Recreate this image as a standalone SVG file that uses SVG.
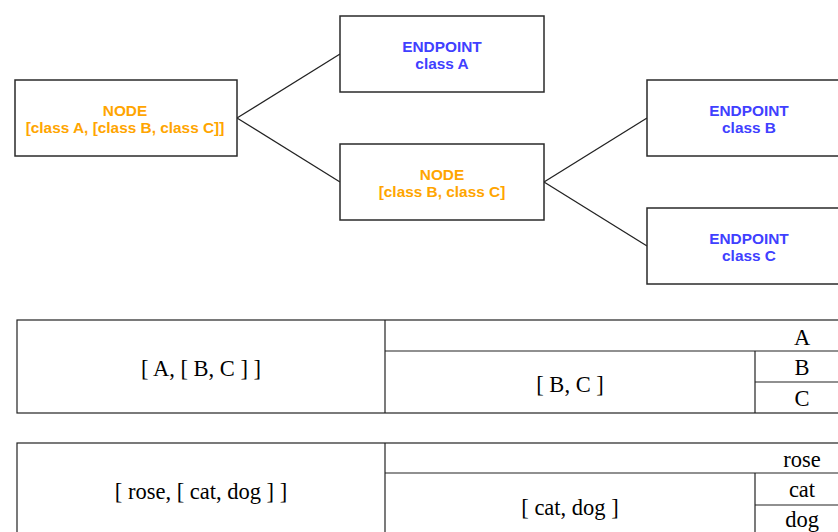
<svg xmlns="http://www.w3.org/2000/svg" width="838" height="532" viewBox="0 0 838 532">
<style>
.box{fill:#fff;stroke:#2a2a2a;stroke-width:1.5}
.lbl{font-family:"Liberation Sans",Arial,sans-serif;font-weight:bold;font-size:15.4px;text-anchor:middle}
.node{fill:#FFA500}
.ep{fill:#4040FF}
.conn{stroke:#222;stroke-width:1.3;fill:none}
.tl{stroke:#222;stroke-width:1.2;fill:none}
.tt{font-family:"Liberation Serif","Times New Roman",serif;font-size:22.5px;fill:#000;text-anchor:middle}
</style>
<rect width="838" height="532" fill="#fff"/>
<g id="connectors">
<line class="conn" x1="237" y1="118" x2="340" y2="54"/>
<line class="conn" x1="237" y1="118" x2="340" y2="182"/>
<line class="conn" x1="544" y1="182" x2="647" y2="118"/>
<line class="conn" x1="544" y1="182" x2="647" y2="246"/>
</g>
<g id="node-root">
<rect class="box" x="15" y="80" width="222" height="76"/>
<text class="lbl node" x="125" y="116">NODE</text>
<text class="lbl node" x="125" y="133">[class A, [class B, class C]]</text>
</g>
<g id="endpoint-a">
<rect class="box" x="340" y="16" width="204" height="76"/>
<text class="lbl ep" x="442" y="52">ENDPOINT</text>
<text class="lbl ep" x="442" y="69">class A</text>
</g>
<g id="node-bc">
<rect class="box" x="340" y="144" width="204" height="76"/>
<text class="lbl node" x="442" y="180">NODE</text>
<text class="lbl node" x="442" y="197">[class B, class C]</text>
</g>
<g id="endpoint-b">
<rect class="box" x="647" y="80" width="204" height="76"/>
<text class="lbl ep" x="749" y="116">ENDPOINT</text>
<text class="lbl ep" x="749" y="133">class B</text>
</g>
<g id="endpoint-c">
<rect class="box" x="647" y="208" width="204" height="76"/>
<text class="lbl ep" x="749" y="244">ENDPOINT</text>
<text class="lbl ep" x="749" y="261">class C</text>
</g>
<g id="table-abc">
<rect class="tl" x="17" y="320" width="831" height="93"/>
<line class="tl" x1="385" y1="320" x2="385" y2="413"/>
<line class="tl" x1="385" y1="351" x2="848" y2="351"/>
<line class="tl" x1="755" y1="351" x2="755" y2="413"/>
<line class="tl" x1="755" y1="382" x2="848" y2="382"/>
<text class="tt" x="201" y="376">[ A, [ B, C ] ]</text>
<text class="tt" x="802" y="345">A</text>
<text class="tt" x="570" y="392">[ B, C ]</text>
<text class="tt" x="802" y="375">B</text>
<text class="tt" x="802" y="406">C</text>
</g>
<g id="table-rose">
<rect class="tl" x="17" y="443" width="831" height="95"/>
<line class="tl" x1="385" y1="443" x2="385" y2="538"/>
<line class="tl" x1="385" y1="473" x2="848" y2="473"/>
<line class="tl" x1="755" y1="473" x2="755" y2="538"/>
<line class="tl" x1="755" y1="505" x2="848" y2="505"/>
<text class="tt" x="201" y="499">[ rose, [ cat, dog ] ]</text>
<text class="tt" x="802" y="467">rose</text>
<text class="tt" x="570" y="515">[ cat, dog ]</text>
<text class="tt" x="802" y="497">cat</text>
<text class="tt" x="802" y="527">dog</text>
</g>
</svg>
